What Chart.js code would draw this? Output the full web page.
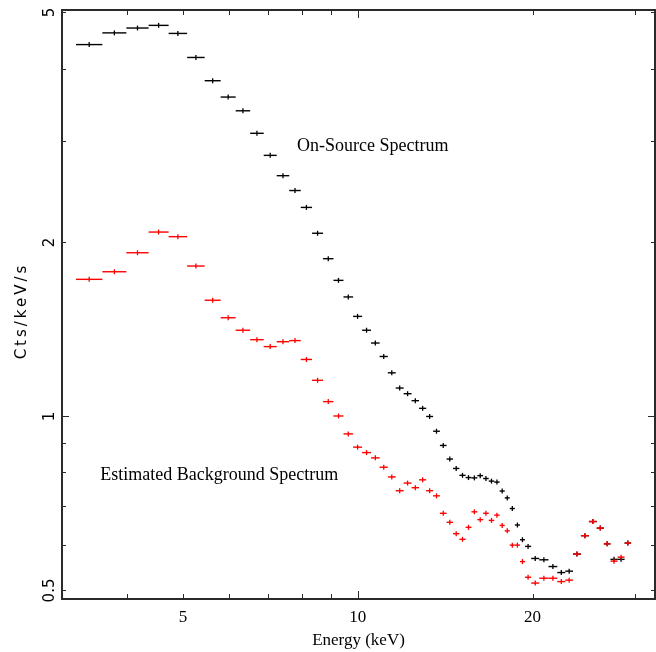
<!DOCTYPE html>
<html>
<head>
<meta charset="utf-8">
<script src="https://cdn.jsdelivr.net/npm/chart.js@4.4.1/dist/chart.umd.min.js"></script>
<style>
    html, body { margin: 0; padding: 0; background: #fff; }
</style>
</head>
<body>
<canvas id="espectro" width="656" height="652"></canvas>
<script>
// Bordes de los canales de energia (keV), un borde mas que puntos
const energyEdges = [
    3.271, 3.631, 3.994, 4.362, 4.722, 5.082, 5.448, 5.805, 6.161, 6.526,
    6.885, 7.250, 7.619, 7.975, 8.341, 8.713, 9.080, 9.448, 9.815, 10.172,
    10.538, 10.904, 11.265, 11.623, 11.994, 12.376, 12.751, 13.115, 13.480, 13.848,
    14.221, 14.587, 14.962, 15.335, 15.692, 16.064, 16.438, 16.807, 17.179, 17.551,
    17.910, 18.269, 18.643, 19.024, 19.406, 19.889, 20.539, 21.303, 22.060, 22.772,
    23.479, 24.227, 25.009, 25.796, 26.534, 27.238, 28.016, 28.806, 29.559
];

// Cts/keV/s por canal
const onSourceRate = [
    4.40, 4.61, 4.70, 4.75, 4.60, 4.18, 3.81, 3.57, 3.38, 3.09,
    2.83, 2.61, 2.46, 2.30, 2.075, 1.875, 1.72, 1.61, 1.49, 1.41,
    1.34, 1.27, 1.19, 1.12, 1.095, 1.065, 1.033, 1.00, 0.943, 0.891,
    0.844, 0.813, 0.791, 0.784, 0.783, 0.790, 0.781, 0.773, 0.770, 0.743,
    0.723, 0.693, 0.649, 0.612, 0.596, 0.568, 0.565, 0.550, 0.537, 0.540,
    0.578, 0.622, 0.658, 0.641, 0.602, 0.566, 0.566, 0.604
];

const backgroundRate = [
    1.727, 1.780, 1.920, 2.085, 2.047, 1.821, 1.589, 1.482, 1.410, 1.358,
    1.321, 1.347, 1.353, 1.255, 1.155, 1.061, 1.002, 0.933, 0.885, 0.866,
    0.848, 0.817, 0.786, 0.744, 0.767, 0.753, 0.777, 0.744, 0.729, 0.680,
    0.656, 0.627, 0.613, 0.643, 0.684, 0.663, 0.680, 0.661, 0.675, 0.648,
    0.634, 0.599, 0.599, 0.561, 0.527, 0.515, 0.525, 0.525, 0.518, 0.521,
    0.578, 0.622, 0.658, 0.641, 0.602, 0.562, 0.571, 0.604
];

const xTicks = [4, 5, 6, 7, 8, 9, 10, 20, 30];
const xTickLabels = [5, 10, 20];
const yTicks = [0.5, 0.6, 0.7, 0.8, 0.9, 1, 2, 3, 4, 5];
const yTickLabels = [0.5, 1, 2, 5];

// punto = centro geometrico del canal
function puntos(valores) {
    return valores.map((v, i) => ({
        x: Math.sqrt(energyEdges[i] * energyEdges[i + 1]),
        y: v
    }));
}

const serif = 'Liberation Serif';

const decoracion = {
    id: 'decoracion',
    // barra horizontal = ancho del canal
    beforeDatasetDraw(chart, args) {
        const ds = chart.data.datasets[args.index];
        const { ctx, scales: { x, y } } = chart;
        ctx.save();
        ctx.strokeStyle = ds.borderColor;
        ctx.lineWidth = 1.4;
        ds.data.forEach((p, i) => {
            const py = y.getPixelForValue(p.y);
            ctx.beginPath();
            ctx.moveTo(x.getPixelForValue(energyEdges[i]), py);
            ctx.lineTo(x.getPixelForValue(energyEdges[i + 1]), py);
            ctx.stroke();
        });
        ctx.restore();
    },
    afterDraw(chart) {
        const { ctx, chartArea: a, scales: { x, y } } = chart;
        ctx.save();
        // marco
        ctx.strokeStyle = '#2a2a2a';
        ctx.lineWidth = 2;
        ctx.strokeRect(a.left, a.top, a.right - a.left, a.bottom - a.top);
        // marcas hacia adentro en los cuatro lados
        ctx.lineWidth = 1;
        xTicks.forEach(v => {
            const px = Math.round(x.getPixelForValue(v)) + 0.5;
            const len = v === 10 ? 8 : 5;
            ctx.beginPath();
            ctx.moveTo(px, a.bottom); ctx.lineTo(px, a.bottom - len);
            ctx.moveTo(px, a.top); ctx.lineTo(px, a.top + len);
            ctx.stroke();
        });
        yTicks.forEach(v => {
            const py = Math.round(y.getPixelForValue(v)) + 0.5;
            const len = v === 1 ? 7 : 4;
            ctx.beginPath();
            ctx.moveTo(a.left, py); ctx.lineTo(a.left + len, py);
            ctx.moveTo(a.right, py); ctx.lineTo(a.right - len, py);
            ctx.stroke();
        });
        // titulo eje y
        ctx.fillStyle = '#000';
        ctx.font = '15px "DejaVu Sans"';
        ctx.letterSpacing = '3px';
        ctx.translate(22, 311);
        ctx.rotate(-Math.PI / 2);
        ctx.textAlign = 'center';
        ctx.textBaseline = 'middle';
        ctx.fillText('Cts/keV/s', 0, 0);
        ctx.restore();

        // rotulos de las curvas
        ctx.save();
        ctx.fillStyle = '#000';
        ctx.font = '18px "' + serif + '"';
        ctx.textBaseline = 'alphabetic';
        ctx.fillText('On-Source Spectrum', x.getPixelForValue(7.86), y.getPixelForValue(2.88));
        ctx.fillText('Estimated Background Spectrum', x.getPixelForValue(3.6), y.getPixelForValue(0.775));
        ctx.restore();
    }
};

new Chart(document.getElementById('espectro'), {
    type: 'scatter',
    data: {
        datasets: [
            {
                label: 'Estimated Background Spectrum',
                data: puntos(backgroundRate),
                borderColor: '#ff0000',
                backgroundColor: '#ff0000'
            },
            {
                label: 'On-Source Spectrum',
                data: puntos(onSourceRate),
                borderColor: '#000000',
                backgroundColor: '#000000'
            }
        ]
    },
    options: {
        responsive: false,
        animation: false,
        devicePixelRatio: 1,
        layout: {
            autoPadding: false,
            padding: { top: 10, right: 1, left: 0, bottom: 0 }
        },
        elements: {
            point: { pointStyle: 'line', rotation: 90, radius: 2.5, borderWidth: 1.3 }
        },
        plugins: {
            legend: { display: false },
            tooltip: { enabled: false }
        },
        scales: {
            x: {
                type: 'logarithmic',
                min: 3.094,
                max: 32.5,
                grid: { display: false, drawTicks: false },
                border: { display: false },
                afterBuildTicks: s => { s.ticks = xTicks.map(v => ({ value: v })); },
                afterFit: s => {
                    s.height = 53;
                    s.paddingLeft = 0;
                    s.paddingRight = 0;
                },
                ticks: {
                    autoSkip: false,
                    maxRotation: 0,
                    minRotation: 0,
                    padding: 8,
                    color: '#000',
                    font: { family: serif, size: 17 },
                    callback: v => xTickLabels.includes(v) ? String(v) : ''
                },
                title: {
                    display: true,
                    text: 'Energy (keV)',
                    color: '#000',
                    font: { family: serif, size: 17 },
                    padding: { top: 0, bottom: 1 }
                }
            },
            y: {
                type: 'logarithmic',
                min: 0.4833,
                max: 5.05,
                grid: { display: false, drawTicks: false },
                border: { display: false },
                afterBuildTicks: s => { s.ticks = yTicks.map(v => ({ value: v })); },
                afterFit: s => {
                    s.width = 62;
                    s.paddingTop = 0;
                    s.paddingBottom = 0;
                },
                ticks: {
                    autoSkip: false,
                    minRotation: 90,
                    maxRotation: 90,
                    crossAlign: 'center',
                    padding: 0,
                    color: '#000',
                    font: { family: 'DejaVu Sans', size: 15 },
                    callback: v => yTickLabels.includes(v) ? String(v) : ''
                }
            }
        }
    },
    plugins: [decoracion]
});
</script>
</body>
</html>
